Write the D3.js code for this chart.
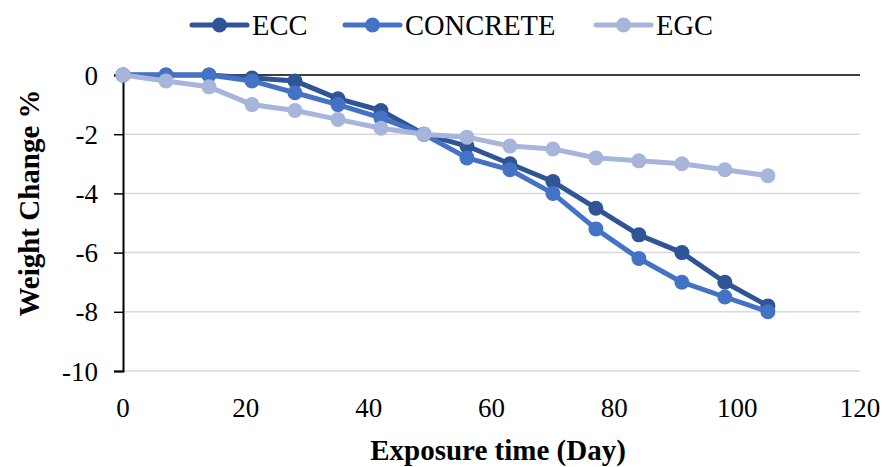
<!DOCTYPE html>
<html>
<head>
<meta charset="utf-8">
<script src="https://cdn.jsdelivr.net/npm/d3@7/dist/d3.min.js"></script>
<style>
  html, body { margin: 0; padding: 0; background: #fff; }
  svg { display: block; }
  text { font-family: "Liberation Serif", "Times New Roman", serif; fill: #000; }
</style>
</head>
<body>
<svg id="chart" width="883" height="467"></svg>
<script>
// Exposure days (weekly readings)
const days = [0, 7, 14, 21, 28, 35, 42, 49, 56, 63, 70, 77, 84, 91, 98, 105];

// Weight change (%) per mix
const ecc      = [0, 0, 0, -0.1, -0.2, -0.8, -1.2, -2.0, -2.4, -3.0, -3.6, -4.5, -5.4, -6.0, -7.0, -7.8];
const concrete = [0, 0, 0, -0.2, -0.6, -1.0, -1.45, -2.0, -2.8, -3.2, -4.0, -5.2, -6.2, -7.0, -7.5, -8.0];
const egc      = [0, -0.2, -0.4, -1.0, -1.2, -1.5, -1.8, -2.0, -2.1, -2.4, -2.5, -2.8, -2.9, -3.0, -3.2, -3.4];

const seriesNames = ["ECC", "CONCRETE", "EGC"];
const seriesColors = ["#2F5597", "#4472C4", "#A7B5DB"];
const seriesValues = [ecc, concrete, egc];

const xTicks = [0, 20, 40, 60, 80, 100, 120];
const yTicks = [0, -2, -4, -6, -8, -10];

const serif = "'Liberation Serif', 'Times New Roman', serif";
const svg = d3.select("#chart");

const x = d3.scaleLinear().domain([0, 120]).range([123, 860]);
const y = d3.scaleLinear().domain([-10, 0]).range([371, 75]);

// Horizontal gridlines
svg.append("g")
  .selectAll("line")
  .data(yTicks.filter(t => t !== 0))
  .join("line")
  .attr("x1", x(0)).attr("x2", x(120))
  .attr("y1", d => y(d)).attr("y2", d => y(d))
  .attr("stroke", "#d9d9d9")
  .attr("stroke-width", 1.5);

// Y axis with outward ticks
const yAxis = svg.append("g")
  .attr("transform", `translate(${x(0)},0)`)
  .call(d3.axisLeft(y).tickValues(yTicks).tickSize(9).tickPadding(16).tickFormat(d => String(d)));
yAxis.attr("font-family", null).attr("font-size", null);
yAxis.select(".domain").attr("stroke", "#000").attr("stroke-width", 2);
yAxis.selectAll(".tick line").attr("stroke", "#000").attr("stroke-width", 1.5);
yAxis.selectAll(".tick text")
  .style("font-family", serif)
  .style("font-size", "27px")
  .attr("fill", "#000")
  .attr("dy", "0.34em");

// Horizontal axis line at zero
svg.append("line")
  .attr("x1", x(0)).attr("x2", x(120))
  .attr("y1", y(0)).attr("y2", y(0))
  .attr("stroke", "#000")
  .attr("stroke-width", 1.5);

// X tick labels placed below the plot area
svg.append("g")
  .selectAll("text")
  .data(xTicks)
  .join("text")
  .attr("x", d => x(d))
  .attr("y", 417)
  .attr("text-anchor", "middle")
  .style("font-family", serif)
  .style("font-size", "27px")
  .text(d => d);

// Series lines and markers
const line = d3.line()
  .x((d, i) => x(days[i]))
  .y(d => y(d));

seriesValues.forEach((vals, si) => {
  const g = svg.append("g");
  g.append("path")
    .datum(vals)
    .attr("d", line)
    .attr("fill", "none")
    .attr("stroke", seriesColors[si])
    .attr("stroke-width", 5)
    .attr("stroke-linejoin", "round");
  g.selectAll("circle")
    .data(vals)
    .join("circle")
    .attr("cx", (d, i) => x(days[i]))
    .attr("cy", d => y(d))
    .attr("r", 7.5)
    .attr("fill", seriesColors[si]);
});

// Axis titles
svg.append("text")
  .attr("x", 498)
  .attr("y", 460)
  .attr("text-anchor", "middle")
  .style("font-family", serif)
  .style("font-size", "29px")
  .style("font-weight", "bold")
  .text("Exposure time (Day)");

svg.append("text")
  .attr("transform", "translate(39,203) rotate(-90)")
  .attr("text-anchor", "middle")
  .style("font-family", serif)
  .style("font-size", "29px")
  .style("font-weight", "bold")
  .text("Weight Change %");

// Legend
const legendX = [192, 345, 596];
const legend = svg.append("g");
seriesNames.forEach((name, i) => {
  const lx = legendX[i];
  legend.append("line")
    .attr("x1", lx).attr("x2", lx + 55)
    .attr("y1", 25).attr("y2", 25)
    .attr("stroke", seriesColors[i])
    .attr("stroke-width", 5)
    .attr("stroke-linecap", "round");
  legend.append("circle")
    .attr("cx", lx + 27.5).attr("cy", 25).attr("r", 7.5)
    .attr("fill", seriesColors[i]);
  legend.append("text")
    .attr("x", lx + 60)
    .attr("y", 35)
    .style("font-family", serif)
    .style("font-size", "28.5px")
    .text(name);
});
</script>
</body>
</html>
